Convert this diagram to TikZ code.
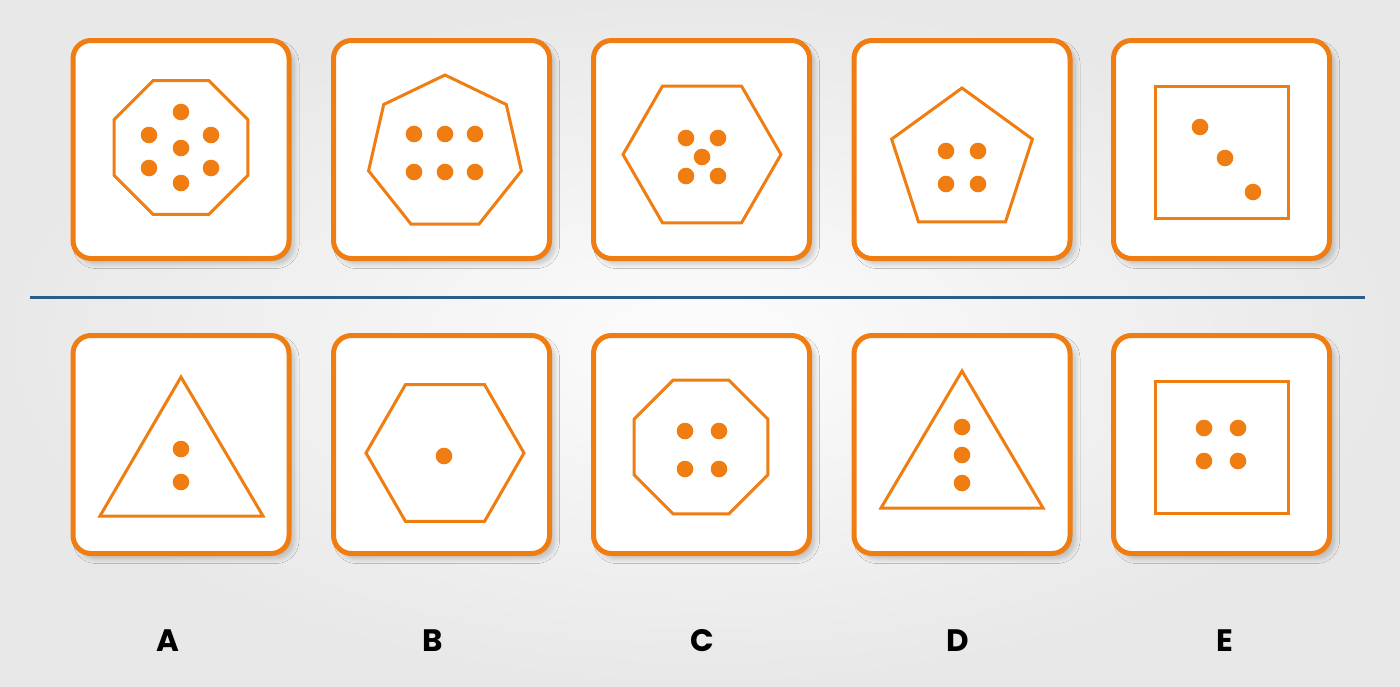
\documentclass[tikz,border=0pt]{standalone}
\usepackage{fontspec}
\newfontfamily\lblfont{Poppins}
\usetikzlibrary{shadows.blur}
\definecolor{org}{RGB}{239,125,17}
\definecolor{divblue}{RGB}{42,92,140}
\tikzset{
  tile/.style={draw=org, line width=5pt, fill=white, rounded corners=18pt,
    minimum width=216pt, minimum height=218pt, inner sep=0pt,
    blur shadow={shadow xshift=5pt, shadow yshift=-5pt, shadow blur radius=5pt, shadow blur steps=10, shadow opacity=22}},
  shp/.style={draw=org, line width=3pt, line join=miter},
  dot/.style={circle, fill=org, minimum size=16.6pt, inner sep=0pt},
  lbl/.style={font=\lblfont\bfseries\fontsize{31}{31}\selectfont, text=black, inner sep=0pt},
  divider/.style={draw=divblue, line width=3pt}
}
\begin{document}
\begin{tikzpicture}[x=1pt, y=-1pt]
\shade[inner color=gray!2, outer color=gray!18] (0,0) rectangle (1400,686);
\useasboundingbox (0,0) rectangle (1400,686);
% tiles
\node[tile] (t1) at (181,149.5) {};
\node[tile] (t2) at (441.5,149.5) {};
\node[tile] (t3) at (701.5,149.5) {};
\node[tile] (t4) at (962,149.5) {};
\node[tile] (t5) at (1221.5,149.5) {};
\node[tile] (b1) at (181,444.5) {};
\node[tile] (b2) at (441.5,444.5) {};
\node[tile] (b3) at (701.5,444.5) {};
\node[tile] (b4) at (962,444.5) {};
\node[tile] (b5) at (1221.5,444.5) {};
% divider
\coordinate (dl) at (30,297);
\coordinate (dr) at (1365,297);
\draw[divider] (dl) -- (dr);
% top 1: octagon
\draw[shp] ([shift={(181,147.5)}]22.5:72.5)
  \foreach \a in {67.5,112.5,...,337.5} { -- ([shift={(181,147.5)}]\a:72.5) } -- cycle;
\foreach \p in {(181,112),(149,135),(211,135),(181,148),(149,168),(211,168),(181,183)}
  \node[dot] at \p {};
% top 2: heptagon
\draw[shp] ([shift={(445,153.4)}]-90:78.4)
  \foreach \k in {1,...,6} { -- ([shift={(445,153.4)}]{-90+\k*360/7}:78.4) } -- cycle;
\foreach \x in {414,445,475} \foreach \y in {134,172}
  \node[dot] at (\x,\y) {};
% top 3: hexagon
\draw[shp] ([shift={(702,154.5)}]0:79)
  \foreach \a in {60,120,...,300} { -- ([shift={(702,154.5)}]\a:79) } -- cycle;
\foreach \p in {(686,138),(718,138),(702,157),(686,176),(718,176)}
  \node[dot] at \p {};
% top 4: pentagon
\draw[shp] ([shift={(962,162)}]-90:74)
  \foreach \k in {1,...,4} { -- ([shift={(962,162)}]{-90+\k*72}:74) } -- cycle;
\foreach \x in {946,978} \foreach \y in {151,184}
  \node[dot] at (\x,\y) {};
% top 5: square
\draw[shp] (1155,86) rectangle (1288,218);
\foreach \p in {(1200,127),(1225,158),(1253,192)}
  \node[dot] at \p {};
% bottom 1: triangle
\draw[shp] (181,377) -- (263,516) -- (100,516) -- cycle;
\foreach \y in {449,482} \node[dot] at (181,\y) {};
% bottom 2: hexagon
\draw[shp] ([shift={(445,453)}]0:79)
  \foreach \a in {60,120,...,300} { -- ([shift={(445,453)}]\a:79) } -- cycle;
\node[dot] at (444,456) {};
% bottom 3: octagon
\draw[shp] ([shift={(701,447)}]22.5:72.5)
  \foreach \a in {67.5,112.5,...,337.5} { -- ([shift={(701,447)}]\a:72.5) } -- cycle;
\foreach \x in {685,719} \foreach \y in {431,469}
  \node[dot] at (\x,\y) {};
% bottom 4: triangle
\draw[shp] (962,371) -- (1043,508) -- (881,508) -- cycle;
\foreach \y in {427,455,483} \node[dot] at (962,\y) {};
% bottom 5: square
\draw[shp] (1155,381) rectangle (1288,513);
\foreach \x in {1204,1238} \foreach \y in {428,461}
  \node[dot] at (\x,\y) {};
% labels
\node[lbl] (la) at (167.5,640.5) {A};
\node[lbl] (lb) at (433,640.5) {B};
\node[lbl] (lc) at (702,640.5) {C};
\node[lbl] (ld) at (958,640.5) {D};
\node[lbl] (le) at (1225,640.5) {E};
\end{tikzpicture}
\end{document}
